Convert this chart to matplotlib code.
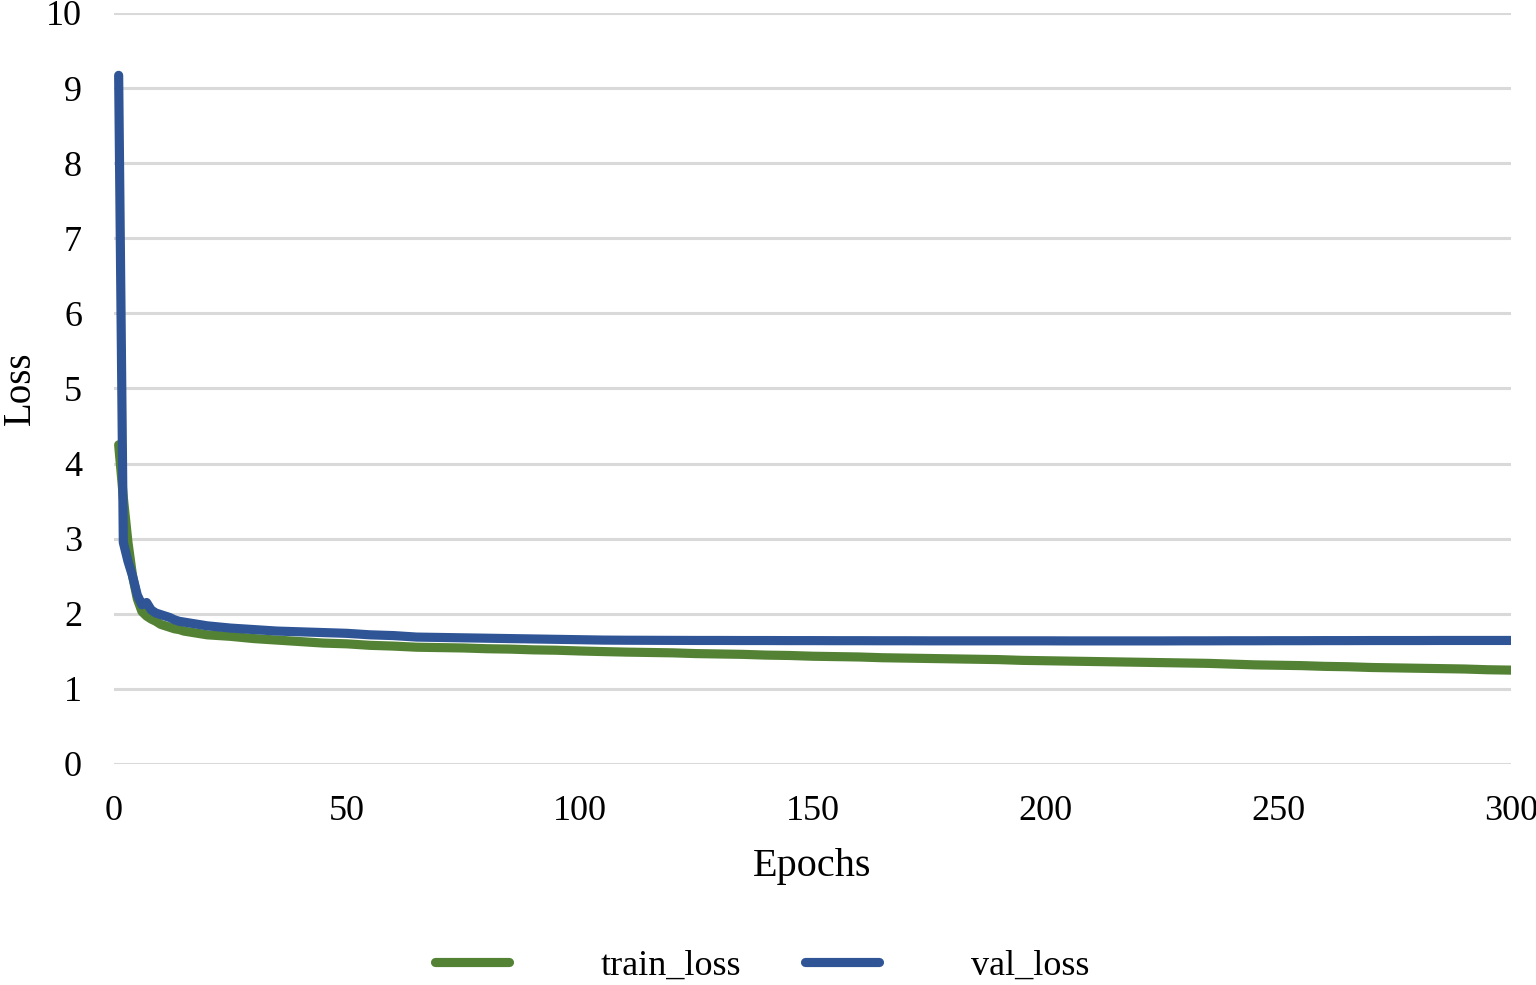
import matplotlib
matplotlib.use('Agg')
import matplotlib.pyplot as plt

plt.rcParams['font.family'] = ['Liberation Serif', 'DejaVu Serif']

# epochs: every epoch for the first 20, then every 5
epochs = list(range(1, 21)) + list(range(25, 301, 5))

train_loss = [4.25, 3.55, 2.95, 2.50, 2.20, 2.03, 1.97, 1.93, 1.90, 1.86,
              1.84, 1.82, 1.80, 1.79, 1.77, 1.76, 1.75, 1.74, 1.73, 1.72,
              1.70, 1.67, 1.65, 1.63, 1.61, 1.60, 1.58, 1.57, 1.555, 1.55,
              1.545, 1.535, 1.53, 1.52, 1.515, 1.505, 1.497, 1.49, 1.485, 1.48,
              1.47, 1.465, 1.46, 1.45, 1.445, 1.435, 1.43, 1.425, 1.415, 1.41,
              1.405, 1.40, 1.395, 1.39, 1.38, 1.375, 1.37, 1.365, 1.36, 1.355,
              1.35, 1.345, 1.34, 1.33, 1.32, 1.315, 1.31, 1.30, 1.295, 1.285,
              1.28, 1.275, 1.27, 1.265, 1.255, 1.25]

val_loss = [9.17, 2.95, 2.70, 2.50, 2.25, 2.12, 2.15, 2.05, 2.01, 1.99,
            1.97, 1.95, 1.92, 1.90, 1.89, 1.88, 1.87, 1.86, 1.85, 1.84,
            1.81, 1.79, 1.77, 1.76, 1.75, 1.74, 1.72, 1.71, 1.69, 1.685,
            1.68, 1.675, 1.67, 1.665, 1.66, 1.655, 1.65, 1.648, 1.647, 1.646,
            1.645, 1.645, 1.644, 1.644, 1.643, 1.643, 1.642, 1.642, 1.641, 1.641,
            1.640, 1.640, 1.640, 1.640, 1.640, 1.640, 1.639, 1.639, 1.639, 1.639,
            1.639, 1.640, 1.640, 1.641, 1.641, 1.642, 1.642, 1.643, 1.643, 1.644,
            1.644, 1.644, 1.645, 1.645, 1.645, 1.645]

fig = plt.figure(figsize=(15.36, 9.85), dpi=100)
ax = fig.add_axes([114/1536, 1 - 764/985, (1511-114)/1536, (764-13)/985])

ax.plot(epochs, train_loss, color='#548235', lw=6.6, solid_capstyle='round',
        solid_joinstyle='round', label='train_loss', zorder=3)
ax.plot(epochs, val_loss, color='#2F5597', lw=6.6, solid_capstyle='round',
        solid_joinstyle='round', label='val_loss', zorder=4)

ax.set_xlim(0, 300)
ax.set_ylim(0, 10)
ax.set_xticks(range(0, 301, 50))
ax.set_yticks(range(0, 11))
ax.grid(axis='y', color='#d9d9d9', lw=2.2)
ax.set_axisbelow(True)
for s in ax.spines.values():
    s.set_visible(False)
ax.tick_params(length=0, labelsize=26)
ax.tick_params(axis='y', pad=23)
ax.tick_params(axis='x', pad=22)

ax.set_xlabel('Epochs', fontsize=29)
ax.set_ylabel('Loss', fontsize=28)
ax.xaxis.set_label_coords(0.5, -0.112)
ax.yaxis.set_label_coords(-0.054, 0.5)

fig.legend(loc='center', bbox_to_anchor=(762/1536, 1 - 966/985), ncol=2,
           frameon=False, fontsize=26, handlelength=2.05, handletextpad=2.55,
           columnspacing=1.75)

fig.savefig('out.png', dpi=100)
